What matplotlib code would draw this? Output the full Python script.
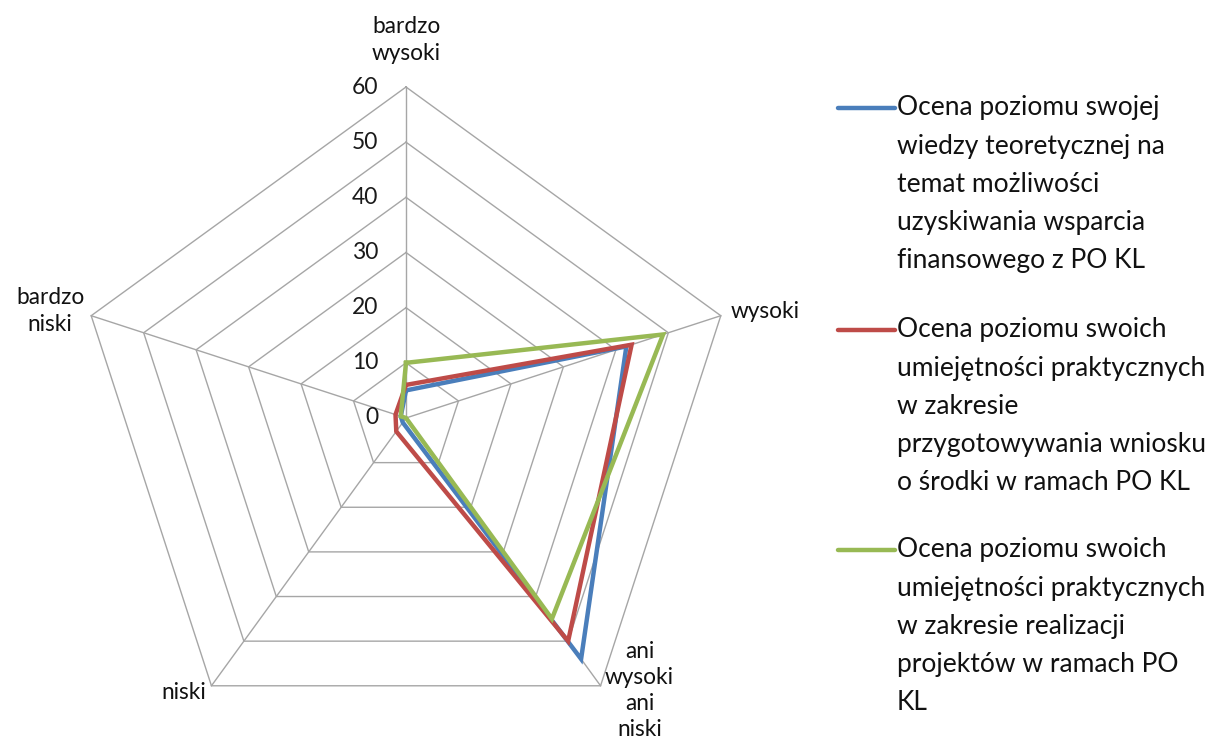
import numpy as np
import matplotlib
matplotlib.use("Agg")
import matplotlib.pyplot as plt
from matplotlib.lines import Line2D

plt.rcParams['font.family'] = ['Lato', 'DejaVu Sans']

categories = ["bardzo\nwysoki", "wysoki", "ani\nwysoki\nani\nniski", "niski", "bardzo\nniski"]
series_names = [
    "Ocena poziomu swojej\nwiedzy teoretycznej na\ntemat możliwości\nuzyskiwania wsparcia\nfinansowego z PO KL",
    "Ocena poziomu swoich\numiejętności praktycznych\nw zakresie\nprzygotowywania wniosku\no środki w ramach PO KL",
    "Ocena poziomu swoich\numiejętności praktycznych\nw zakresie realizacji\nprojektów w ramach PO\nKL",
]
blue_values = [5, 42, 54, 1, 1]
red_values = [6, 43, 50, 3, 2]
green_values = [10, 49, 45, 0, 1]
tick_values = [0, 10, 20, 30, 40, 50, 60]
colors = ["#4a7ebb", "#be4b48", "#98b954"]

W, H = 1205, 745
fig = plt.figure(figsize=(W / 100, H / 100), dpi=100)
cx, cy, R = 406, 418, 331
ax = fig.add_axes([(cx - R) / W, (H - cy - R) / H, 2 * R / W, 2 * R / H], projection='polar')
ax.set_theta_offset(np.pi / 2)
ax.set_theta_direction(-1)
ax.set_ylim(0, 60)
ax.grid(False)
ax.spines['polar'].set_visible(False)
ax.set_xticks([])
ax.set_yticks([])
ax.patch.set_alpha(0)

n = len(categories)
angles = np.linspace(0, 2 * np.pi, n, endpoint=False)
closed = np.concatenate([angles, angles[:1]])

grid_color = "#a6a6a6"
for v in tick_values[1:]:
    ax.plot(closed, [v] * (n + 1), color=grid_color, lw=1.0, clip_on=False, zorder=1)
for a in angles:
    ax.plot([a, a], [0, tick_values[-1]], color=grid_color, lw=1.0, clip_on=False, zorder=1)

for vals, col in zip([blue_values, red_values, green_values], colors):
    ax.plot(closed, list(vals) + [vals[0]], color=col, lw=3.2, zorder=3,
            solid_joinstyle='miter', clip_on=False)

# tick labels
for v in tick_values:
    ax.annotate(str(v), xy=(0, v), xytext=(-20, 0), textcoords='offset points',
                ha='right', va='center', fontsize=16.5, color='#1a1a1a')

# category labels (offsets in pixels -> points)
offsets = [(0, 47, 'center'), (10, 4, 'left'), (39, -5, 'center'), (-28, -7, 'center'), (-41, 5, 'center')]
for a, lab, (dx, dy, ha) in zip(angles, categories, offsets):
    ax.annotate(lab, xy=(a, tick_values[-1]), xytext=(dx * 0.72, dy * 0.72),
                textcoords='offset points', ha=ha, va='center', fontsize=16.3,
                color='#111111', linespacing=1.3 if lab.count('\n') > 2 else 1.35,
                annotation_clip=False)

# legend (manual, handle aligned to first line)
first_y = [108, 330, 550]
line_step = 38.2
for name, col, y0 in zip(series_names, colors, first_y):
    fig.add_artist(Line2D([838 / W, 895 / W], [1 - y0 / H, 1 - y0 / H], color=col, lw=3.2,
                          solid_capstyle='round', transform=fig.transFigure))
    for i, line in enumerate(name.split("\n")):
        fig.text(897 / W, 1 - (y0 + i * line_step) / H, line, ha='left', va='center',
                 fontsize=19, color='#111111')

fig.savefig("out.png", dpi=100)
